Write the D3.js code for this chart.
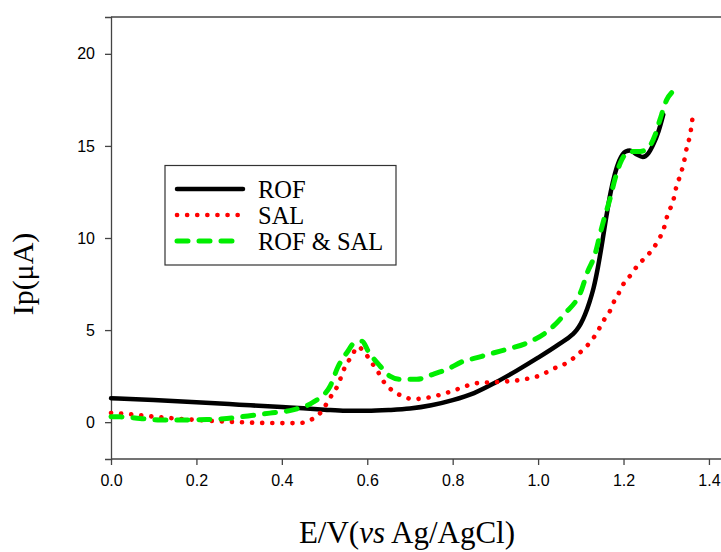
<!DOCTYPE html>
<html>
<head>
<meta charset="utf-8">
<script src="https://cdn.jsdelivr.net/npm/d3@7"></script>
<style>
  html, body { margin: 0; padding: 0; background: #fff; }
  svg { display: block; }
</style>
</head>
<body>
<svg id="chart" width="721" height="552"></svg>
<script>
// Voltammogram: current vs potential for ROF, SAL and their mixture
const rofE = [0, 0.1, 0.2, 0.3, 0.4, 0.45, 0.5, 0.55, 0.6, 0.65, 0.7, 0.75, 0.8, 0.85, 0.9, 0.95, 1.0, 1.05, 1.08, 1.09, 1.1, 1.11, 1.12, 1.13, 1.14, 1.15, 1.16, 1.17, 1.18, 1.19, 1.205, 1.215, 1.23, 1.245, 1.258, 1.27, 1.282, 1.293];
const rofI = [1.30, 1.20, 1.08, 0.95, 0.82, 0.76, 0.68, 0.62, 0.62, 0.66, 0.74, 0.92, 1.20, 1.58, 2.15, 2.80, 3.50, 4.25, 4.75, 5.0, 5.35, 5.85, 6.5, 7.3, 8.4, 9.75, 11.2, 12.5, 13.5, 14.2, 14.7, 14.75, 14.55, 14.4, 14.6, 15.1, 15.8, 16.7];

const salE = [0, 0.05, 0.1, 0.2, 0.3, 0.4, 0.44, 0.47, 0.49, 0.515, 0.53, 0.548, 0.564, 0.578, 0.593, 0.61, 0.626, 0.64, 0.66, 0.684, 0.707, 0.733, 0.756, 0.78, 0.806, 0.83, 0.85, 0.88, 0.92, 0.96, 1.0, 1.045, 1.07, 1.094, 1.114, 1.13, 1.143, 1.155, 1.169, 1.178, 1.19, 1.201, 1.218, 1.233, 1.252, 1.27, 1.283, 1.293, 1.305, 1.315, 1.325, 1.333, 1.339, 1.344, 1.348, 1.354, 1.358, 1.362];
const salI = [0.5, 0.42, 0.3, 0.12, 0.0, -0.05, -0.05, 0.15, 0.5, 1.4, 1.95, 3.0, 3.6, 4.1, 3.8, 3.25, 2.7, 2.15, 1.7, 1.4, 1.25, 1.3, 1.4, 1.55, 1.75, 1.95, 2.1, 2.15, 2.2, 2.3, 2.5, 3.0, 3.25, 3.7, 4.13, 4.59, 5.08, 5.58, 6.07, 6.56, 7.05, 7.55, 8.02, 8.51, 8.96, 9.45, 9.94, 10.42, 11.4, 11.9, 12.9, 13.4, 13.9, 14.4, 14.9, 15.4, 15.9, 16.6];

const mixE = [0, 0.021, 0.068, 0.115, 0.173, 0.224, 0.271, 0.321, 0.372, 0.426, 0.473, 0.513, 0.531, 0.553, 0.571, 0.588, 0.602, 0.63, 0.653, 0.677, 0.716, 0.754, 0.787, 0.824, 0.857, 0.876, 0.927, 0.976, 1.023, 1.063, 1.102, 1.114, 1.133, 1.145, 1.154, 1.168, 1.18, 1.196, 1.215, 1.239, 1.258, 1.274, 1.285, 1.301, 1.315];
const mixI = [0.3, 0.29, 0.2, 0.12, 0.12, 0.14, 0.2, 0.34, 0.49, 0.67, 1.08, 1.95, 2.98, 3.8, 4.33, 4.4, 3.86, 3.05, 2.5, 2.33, 2.33, 2.6, 2.87, 3.3, 3.5, 3.63, 3.96, 4.32, 4.95, 5.9, 7.2, 8.05, 9.1, 10.2, 11.0, 12.1, 13.2, 14.25, 14.7, 14.7, 14.9, 15.6, 16.4, 17.5, 17.95];

const xTicks = [0, 0.2, 0.4, 0.6, 0.8, 1.0, 1.2, 1.4];
const yTicks = [0, 5, 10, 15, 20];
const seriesNames = ["ROF", "SAL", "ROF & SAL"];

const series = [
  { name: seriesNames[0], E: rofE, I: rofI, color: "#000000", width: 4.5, dash: null },
  { name: seriesNames[1], E: salE, I: salI, color: "#ff0000", width: 4.6, dash: "0.1,10" },
  { name: seriesNames[2], E: mixE, I: mixI, color: "#00ee00", width: 5, dash: "11,11" }
];

const svg = d3.select("#chart");
const plotLeft = 111, plotTop = 17, plotBottom = 459;
const x = d3.scaleLinear().domain([0, 1.5]).range([plotLeft, plotLeft + 1.5 * 427.1]);
const y = d3.scaleLinear().domain([-2, 22]).range([plotBottom, plotTop]);

const axisColor = "#444";

// plot area frame: top edge only, axes on left and bottom
svg.append("line")
  .attr("x1", plotLeft).attr("x2", 721)
  .attr("y1", plotTop).attr("y2", plotTop)
  .attr("stroke", axisColor).attr("stroke-width", 1.3);

const xAxis = svg.append("g")
  .attr("transform", `translate(0,${plotBottom})`)
  .call(d3.axisBottom(x).tickValues(xTicks).tickFormat(d3.format(".1f")).tickSize(6).tickPadding(10));
xAxis.select(".domain").attr("d", `M${plotLeft},0H721`);

const yAxis = svg.append("g")
  .attr("transform", `translate(${plotLeft},0)`)
  .call(d3.axisLeft(y).tickValues(yTicks).tickSize(6).tickPadding(10));

[xAxis, yAxis].forEach(g => {
  g.selectAll(".domain, .tick line").attr("stroke", axisColor).attr("stroke-width", 1.3);
  g.selectAll("text")
    .attr("fill", "#000")
    .style("font-family", "'Liberation Sans', Arial, sans-serif")
    .style("font-size", "16px");
});

// curves
const plot = svg.append("g");
series.forEach(s => {
  const pts = s.E.map((e, i) => [e, s.I[i]]);
  const line = d3.line()
    .x(d => x(d[0]))
    .y(d => y(d[1]))
    .curve(d3.curveMonotoneX);
  plot.append("path")
    .datum(pts)
    .attr("d", line)
    .attr("fill", "none")
    .attr("stroke", s.color)
    .attr("stroke-width", s.width)
    .attr("stroke-linecap", "round")
    .attr("stroke-linejoin", "round")
    .attr("stroke-dasharray", s.dash);
});

// legend
const lg = svg.append("g");
lg.append("rect")
  .attr("x", 165).attr("y", 165.5)
  .attr("width", 231).attr("height", 99.5)
  .attr("fill", "#fff")
  .attr("stroke", "#333").attr("stroke-width", 1.2);
const rowY = [189, 215, 241];
series.forEach((s, i) => {
  lg.append("line")
    .attr("x1", 177).attr("x2", 243)
    .attr("y1", rowY[i]).attr("y2", rowY[i])
    .attr("stroke", s.color)
    .attr("stroke-width", s.width)
    .attr("stroke-linecap", "round")
    .attr("stroke-dasharray", s.dash);
  lg.append("text")
    .attr("x", 258).attr("y", rowY[i] + 8.5)
    .attr("fill", "#000")
    .style("font-family", "'Liberation Serif', 'Times New Roman', serif")
    .style("font-size", "24.5px")
    .text(s.name);
});

// axis titles
svg.append("text")
  .attr("transform", "translate(33,274) rotate(-90)")
  .attr("text-anchor", "middle")
  .style("font-family", "'Liberation Serif', 'Times New Roman', serif")
  .style("font-size", "30px")
  .text("Ip(μA)");

const xt = svg.append("text")
  .attr("x", 407).attr("y", 543)
  .attr("text-anchor", "middle")
  .style("font-family", "'Liberation Serif', 'Times New Roman', serif")
  .style("font-size", "31px");
xt.append("tspan").text("E/V(");
xt.append("tspan").style("font-style", "italic").text("vs");
xt.append("tspan").text(" Ag/AgCl)");
</script>
</body>
</html>
